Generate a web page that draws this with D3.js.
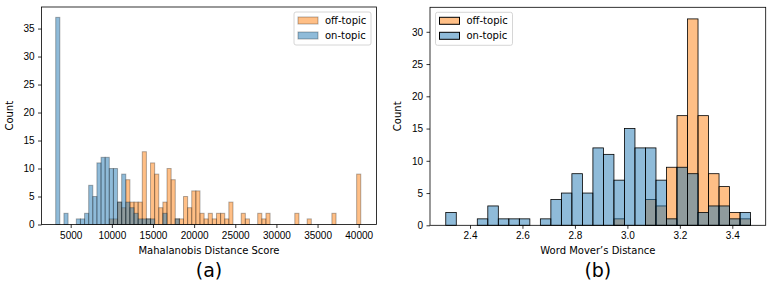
<!DOCTYPE html>
<html>
<head>
<meta charset="utf-8">
<script src="https://cdn.jsdelivr.net/npm/d3@7"></script>
<style>
  body { margin: 0; background: #fff; }
  svg { display: block; font-family: "DejaVu Sans", sans-serif; }
  .axis text { font-size: 10px; fill: #000; }
  .axis path, .axis line { stroke: #000; stroke-width: 0.8; }
</style>
</head>
<body>
<div id="chart"></div>
<script>
// ---- data: (a) Mahalanobis distance histogram, 74 bins ----
const mahaBinStart = 3177;
const mahaBinWidth = 501;
const mahaOnTopic = [37, 0, 2, 0, 0, 1, 1, 2, 7, 5, 11, 12, 12, 10, 10, 4, 9, 4, 3, 2,
    1, 1, 1, 1, 0, 0, 2, 0, 0, 1, 0, 0, 0, 0, 0, 0, 0, 0, 0, 0,
    0, 0, 0, 0, 0, 0, 0, 0, 0, 0, 0, 0, 0, 0, 0, 0, 0, 0, 0, 0,
    0, 0, 0, 0, 0, 0, 0, 0, 0, 0, 0, 0, 0, 0];
const mahaOffTopic = [0, 0, 0, 0, 0, 0, 0, 0, 0, 0, 0, 0, 0, 1, 1, 4, 3, 8, 4, 4,
    4, 13, 1, 11, 9, 3, 4, 10, 8, 1, 1, 5, 3, 6, 6, 2, 1, 2, 1, 2,
    2, 1, 4, 0, 0, 2, 1, 0, 0, 2, 1, 2, 0, 0, 0, 0, 0, 0, 2, 0,
    0, 1, 0, 0, 0, 0, 0, 2, 0, 0, 0, 0, 0, 9];
const mahaXTicks = [5000, 10000, 15000, 20000, 25000, 30000, 35000, 40000];
const mahaYTicks = [0, 5, 10, 15, 20, 25, 30, 35];

// ---- data: (b) Word Mover's Distance histogram, 29 bins ----
const wmdBinStart = 2.3076;
const wmdBinWidth = 0.04007;
const wmdOnTopic = [2, 0, 0, 1, 3, 1, 1, 1, 0, 1, 4, 5, 8, 5, 12, 11, 7, 15, 12, 12,
    7, 1, 9, 8, 2, 3, 3, 1, 2];
const wmdOffTopic = [0, 0, 0, 0, 0, 0, 0, 0, 0, 0, 0, 0, 0, 0, 0, 0, 1, 0, 0, 4,
    3, 9, 17, 32, 17, 8, 6, 2, 1];
const wmdXTicks = [2.4, 2.6, 2.8, 3.0, 3.2, 3.4];
const wmdYTicks = [0, 5, 10, 15, 20, 25, 30];

const seriesNames = ["off-topic", "on-topic"];
const colors = {"off-topic": "#ff7f0e", "on-topic": "#1f77b4"};

const svg = d3.select("#chart").append("svg")
    .attr("width", 777)
    .attr("height", 282);

function drawHist(opts) {
    const x = d3.scaleLinear().domain(opts.xDomain).range([opts.left, opts.right]);
    const y = d3.scaleLinear().domain(opts.yDomain).range([opts.bottom, opts.top]);
    const g = svg.append("g");

    // orange first, blue drawn over it (overlap turns grey)
    const layers = [
        {name: "off-topic", counts: opts.off},
        {name: "on-topic", counts: opts.on}
    ];
    layers.forEach(layer => {
        const bins = layer.counts.map((c, i) => ({
            x0: opts.binStart + i * opts.binWidth,
            x1: opts.binStart + (i + 1) * opts.binWidth,
            n: c
        })).filter(d => d.n > 0);
        g.selectAll(null)
            .data(bins)
            .enter()
            .append("rect")
            .attr("x", d => x(d.x0))
            .attr("y", d => y(d.n))
            .attr("width", d => x(d.x1) - x(d.x0))
            .attr("height", d => y(0) - y(d.n))
            .attr("fill", colors[layer.name])
            .attr("fill-opacity", 0.5)
            .attr("stroke", "#000")
            .attr("stroke-opacity", opts.edgeOpacity)
            .attr("stroke-width", opts.edgeWidth);
    });

    g.append("g")
        .attr("class", "axis")
        .attr("transform", `translate(0,${opts.bottom})`)
        .call(d3.axisBottom(x).tickValues(opts.xTicks).tickFormat(opts.xFormat)
            .tickSizeInner(3.5).tickSizeOuter(0).tickPadding(3.5))
        .call(a => a.select(".domain").remove());

    g.append("g")
        .attr("class", "axis")
        .attr("transform", `translate(${opts.left},0)`)
        .call(d3.axisLeft(y).tickValues(opts.yTicks)
            .tickSizeInner(3.5).tickSizeOuter(0).tickPadding(3.5))
        .call(a => a.select(".domain").remove());

    // frame
    g.append("rect")
        .attr("x", opts.left)
        .attr("y", opts.top)
        .attr("width", opts.right - opts.left)
        .attr("height", opts.bottom - opts.top)
        .attr("fill", "none")
        .attr("stroke", "#000")
        .attr("stroke-width", 0.8);

    g.append("text")
        .attr("transform", `translate(${opts.left - 29},${(opts.top + opts.bottom) / 2}) rotate(-90)`)
        .attr("text-anchor", "middle")
        .style("font-size", "10px")
        .text("Count");

    g.append("text")
        .attr("x", (opts.left + opts.right) / 2)
        .attr("y", opts.bottom + 29)
        .attr("text-anchor", "middle")
        .style("font-size", "10px")
        .text(opts.xLabel);

    g.append("text")
        .attr("x", (opts.left + opts.right) / 2)
        .attr("y", 277)
        .attr("text-anchor", "middle")
        .style("font-size", "19px")
        .text(opts.panel);

    // legend
    const lg = g.append("g").attr("transform", `translate(${opts.legendX},${opts.top + 5})`);
    lg.append("rect")
        .attr("width", 77)
        .attr("height", 33)
        .attr("rx", 2)
        .attr("fill", "#fff")
        .attr("fill-opacity", 0.8)
        .attr("stroke", "#ccc")
        .attr("stroke-width", 0.8);
    seriesNames.forEach((name, i) => {
        lg.append("rect")
            .attr("x", 4)
            .attr("y", 5 + i * 15)
            .attr("width", 20)
            .attr("height", 7)
            .attr("fill", colors[name])
            .attr("fill-opacity", 0.5)
            .attr("stroke", "#000")
            .attr("stroke-opacity", opts.edgeOpacity)
            .attr("stroke-width", 1);
        lg.append("text")
            .attr("x", 31)
            .attr("y", 12 + i * 15)
            .style("font-size", "10px")
            .text(name);
    });
}

drawHist({
    left: 41.5, right: 376.5, top: 7, bottom: 224.5,
    xDomain: [1451, 42163], yDomain: [0, 38.85],
    binStart: mahaBinStart, binWidth: mahaBinWidth,
    on: mahaOnTopic, off: mahaOffTopic,
    xTicks: mahaXTicks, yTicks: mahaYTicks, xFormat: d3.format("d"),
    xLabel: "Mahalanobis Distance Score", panel: "(a)",
    edgeOpacity: 0.3, edgeWidth: 1,
    legendX: 294
});

drawHist({
    left: 430, right: 765.7, top: 7.3, bottom: 225.3,
    xDomain: [2.2475, 3.5273], yDomain: [0, 33.8],
    binStart: wmdBinStart, binWidth: wmdBinWidth,
    on: wmdOnTopic, off: wmdOffTopic,
    xTicks: wmdXTicks, yTicks: wmdYTicks, xFormat: d3.format(".1f"),
    xLabel: "Word Mover\u2019s Distance", panel: "(b)",
    edgeOpacity: 1, edgeWidth: 0.8,
    legendX: 435.5
});
</script>
</body>
</html>
